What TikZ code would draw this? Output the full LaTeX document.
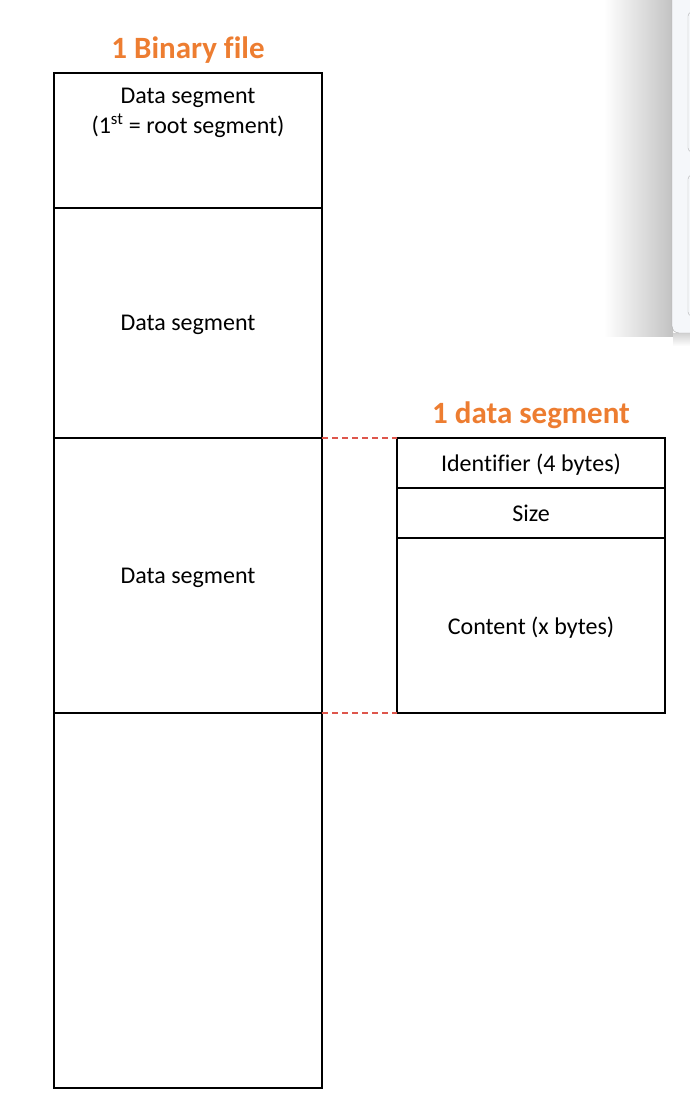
\documentclass[tikz,border=0pt]{standalone}
\usepackage{fontspec}
\setmainfont[Ligatures=NoCommon]{Carlito}
\usetikzlibrary{positioning}
\definecolor{titleorange}{RGB}{237,125,49}
\definecolor{linkred}{RGB}{222,86,76}
\definecolor{panelbg}{RGB}{245,247,250}

\begin{document}
\begin{tikzpicture}[
  x=1pt, y=-1pt,
  node distance=0pt,
  every node/.style={font=\fontsize{24}{30}\selectfont},
  seg/.style={draw, line width=1.1pt, minimum width=268pt, inner sep=0pt,
    outer sep=0pt, align=center, text depth=0pt},
  ttl/.style={text=titleorange, font=\fontsize{31}{36}\selectfont\bfseries},
  link/.style={draw=linkred, line width=1.2pt, dash pattern=on 6pt off 4pt}
]
\useasboundingbox (0,0) rectangle (690,1106);

% edge of a window at the top right
\begin{scope}
\clip (0,0) rectangle (690,1106);
\shade[left color=white, right color=black!24] (604,0) rectangle (673,336);
\shade[top color=black!18, bottom color=white] (673,333) rectangle (690,346);
\draw[fill=panelbg, draw=black!35, rounded corners=7pt] (672,-10) rectangle (712,333);
\draw[black!30, rounded corners=4pt] (700,12) rectangle (688,152);
\draw[black!30, rounded corners=4pt] (700,175) rectangle (688,316);
\end{scope}

% binary file
\node[ttl] (bintitle) at (188,50) {1 Binary file};
\node[seg, minimum height=135pt, anchor=north west] (root) at (54,73) {};
\node[inner sep=0pt, align=center, below=15pt of root.north] (rootlbl)
  {Data segment\\(1\textsuperscript{st} = root segment)};
\node[seg, minimum height=230pt, below=of root] (seg2) {Data segment};
\node[seg, minimum height=275pt, below=of seg2] (seg3) {Data segment};
\node[seg, minimum height=375pt, below=of seg3] (seg4) {};

% one segment
\node[ttl] (segtitle) at (531,415) {1 data segment};
\node[seg, minimum height=50pt, anchor=north west] (ident) at (397,438) {Identifier (4 bytes)};
\node[seg, minimum height=50pt, below=of ident] (size) {Size};
\node[seg, minimum height=175pt, below=of size] (content) {Content (x bytes)};

\draw[link] (seg3.north east) -- (ident.north west);
\draw[link] (seg3.south east) -- (content.south west);
\end{tikzpicture}
\end{document}
